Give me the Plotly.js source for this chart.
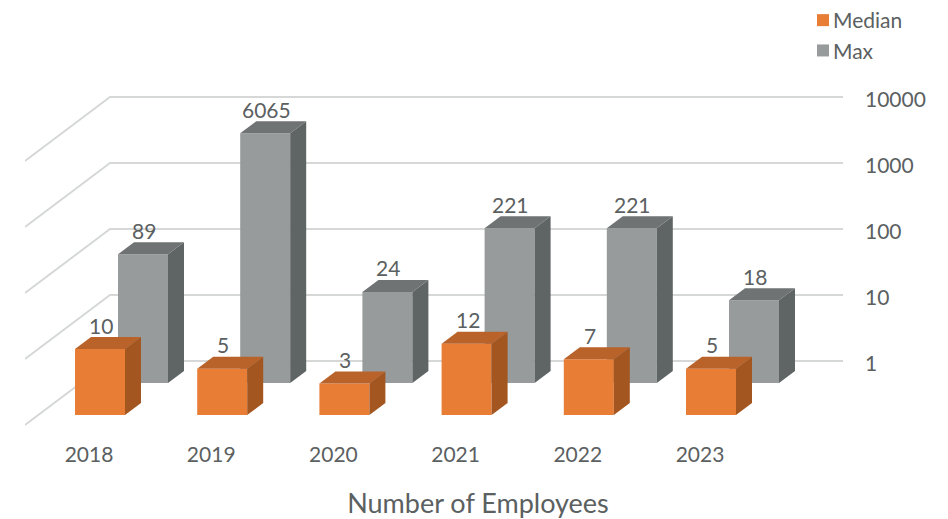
<!DOCTYPE html>
<html>
<head>
<meta charset="utf-8">
<script src="https://cdn.plot.ly/plotly-3.0.1.min.js"></script>
<style>html,body{margin:0;padding:0;background:#fff}#c{width:948px;height:519px}</style>
</head>
<body>
<div id="c"></div>
<script>
var years = [2018, 2019, 2020, 2021, 2022, 2023];
var medianValues = [10, 5, 3, 12, 7, 5];
var maxValues = [89, 6065, 24, 221, 221, 18];
var axisTicks = [1, 10, 100, 1000, 10000];
var axisTickText = ['1', '10', '100', '1000', '10000'];

var W = 948, H = 519;
var pxPerYear = 122.2, pxPerDecade = 66;
var xLeft = 25, xRight = 931, xWallBack = 110, xGridEnd = 843, year0Px = 89;
var GRAY_TEXT = '#5b6061', FONT = 'Lato, "Open Sans", sans-serif';

function xData(px) { return years[0] + (px - year0Px) / pxPerYear; }
function dxData(px) { return px / pxPerYear; }
function fy(px) { return (H - px) / H; }
function range(bottomPx, topPx, oneAtPx) {
  return [(oneAtPx - bottomPx) / pxPerDecade, (oneAtPx - topPx) / pxPerDecade];
}

var barW = dxData(50), depthX = dxData(16), depthF = Math.pow(10, 12 / pxPerDecade);
var medOff = dxData(75 - year0Px), maxOff = dxData(118 - year0Px);

function faces(vals, off) {
  var top = {x: [], y: []}, side = {x: [], y: []};
  vals.forEach(function (v, i) {
    var l = years[i] + off, r = l + barW;
    top.x.push(l, r, r + depthX, l + depthX, l, null);
    top.y.push(v, v, v * depthF, v * depthF, v, null);
    side.x.push(r, r + depthX, r + depthX, r, r, null);
    side.y.push(1, depthF, v * depthF, v, 1, null);
  });
  return {top: top, side: side};
}
function poly(p, color, yaxis) {
  return {type: 'scatter', mode: 'lines', x: p.x, y: p.y, yaxis: yaxis, fill: 'toself',
    fillcolor: color, line: {width: 0, color: color}, hoverinfo: 'skip', showlegend: false};
}
function bar(name, vals, off, color, yaxis) {
  return {type: 'bar', name: name, x: years, y: vals, yaxis: yaxis, width: barW, offset: off,
    marker: {color: color, line: {width: 0}}, legendgroup: name, hoverinfo: 'x+y'};
}

// back wall and side wall lines
var wall = {x: [], y: []};
var frontF = Math.pow(10, -64 / pxPerDecade);
axisTicks.forEach(function (t) {
  wall.x.push(xData(xLeft), xData(xWallBack), xData(xGridEnd), null);
  wall.y.push(t * frontF, t, t, null);
});

var medF = faces(medianValues, medOff), maxF = faces(maxValues, maxOff);

var traces = [
  {type: 'scatter', mode: 'lines', x: wall.x, y: wall.y, yaxis: 'y',
   line: {color: '#d6d8d8', width: 2}, hoverinfo: 'skip', showlegend: false, connectgaps: false},
  bar('Median', medianValues, medOff, '#E87D36', 'y3'),
  bar('Max', maxValues, maxOff, '#979b9c', 'y2'),
  poly(maxF.side, '#5f6465', 'y2'),
  poly(maxF.top, '#6f7374', 'y2'),
  poly(medF.side, '#A3561F', 'y3'),
  poly(medF.top, '#B9622A', 'y3')
];

function labels(vals, off, yref) {
  return vals.map(function (v, i) {
    return {x: years[i] + off + barW / 2 + dxData(1), y: Math.log10(v), xref: 'x', yref: yref,
      text: String(v), showarrow: false, yshift: 24, yanchor: 'middle',
      font: {family: FONT, size: 21, color: GRAY_TEXT}};
  });
}

var layout = {
  width: W, height: H,
  margin: {l: 0, r: 0, t: 0, b: 0},
  paper_bgcolor: '#fff', plot_bgcolor: 'rgba(0,0,0,0)',
  barmode: 'overlay',
  font: {family: FONT, color: GRAY_TEXT},
  xaxis: {
    domain: [xLeft / W, xRight / W], range: [xData(xLeft), xData(xRight)], type: 'linear',
    tickvals: years, ticktext: years.map(String), tickfont: {family: FONT, size: 21, color: GRAY_TEXT},
    showgrid: false, zeroline: false, showline: false, ticks: '', ticklabelstandoff: 10,
    anchor: 'y', automargin: false,
    title: {text: 'Number of Employees', font: {family: FONT, size: 27, color: GRAY_TEXT}, standoff: 31}
  },
  yaxis: {
    type: 'log', domain: [fy(430), fy(85)], range: range(430, 85, 361),
    side: 'right', anchor: 'free', position: xGridEnd / W,
    tickvals: axisTicks, ticktext: axisTickText, tickfont: {family: FONT, size: 21, color: GRAY_TEXT},
    showgrid: false, zeroline: false, showline: false, ticks: '', ticklabelstandoff: 21,
    ticklabelshift: 3, automargin: false
  },
  yaxis2: {type: 'log', domain: [fy(383), fy(85)], range: range(383, 85, 383), anchor: 'x', visible: false},
  yaxis3: {type: 'log', domain: [fy(415), fy(290)], range: range(415, 290, 415), anchor: 'x', visible: false},
  legend: {x: 803 / W, y: fy(0), xanchor: 'left', yanchor: 'top', bgcolor: 'rgba(0,0,0,0)',
    font: {family: FONT, size: 21, color: GRAY_TEXT}, tracegroupgap: 0, itemwidth: 30},
  annotations: labels(maxValues, maxOff, 'y2').concat(labels(medianValues, medOff, 'y3')),
  showlegend: true
};
Plotly.newPlot('c', traces, layout, {displayModeBar: false, staticPlot: true}).then(function (gd) {
  // bring the legend text closer to its swatch
  gd.querySelectorAll('.legendtext').forEach(function (t) {
    t.setAttribute('x', parseFloat(t.getAttribute('x')) - 10);
  });
});
</script>
</body>
</html>
